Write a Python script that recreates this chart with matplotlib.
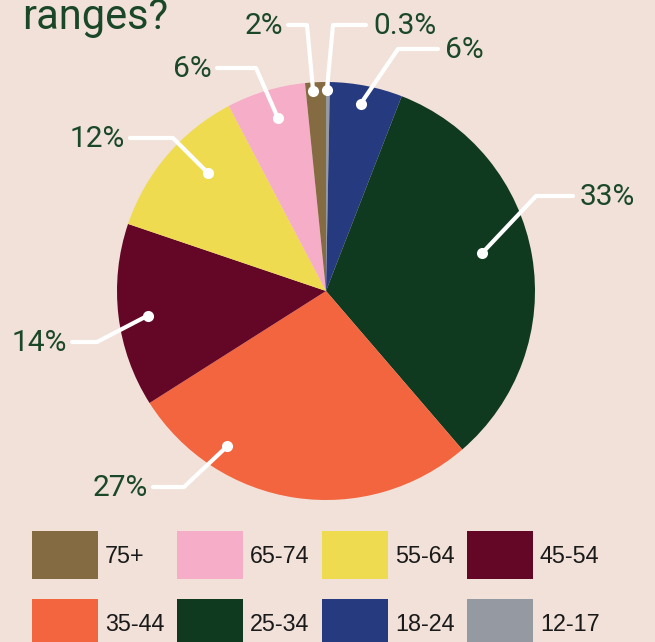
import matplotlib.pyplot as plt
from matplotlib.patches import Rectangle
import numpy as np

# pie data, clockwise from 12 o'clock
ages = ['12-17', '18-24', '25-34', '35-44', '45-54', '55-64', '65-74', '75+']
shares = [0.3, 5.6, 32.8, 27.3, 14.2, 12.1, 6.1, 1.6]
pct_labels = ['0.3%', '6%', '33%', '27%', '14%', '12%', '6%', '2%']
colors = ['#9599a1', '#263a80', '#103a20', '#f2653e', '#640727', '#efdb50', '#f6adc8', '#846b42']

# legend runs the other way round
legend_order = ['75+', '65-74', '55-64', '45-54', '35-44', '25-34', '18-24', '12-17']

W, H = 655, 642
bg = '#f1e1d8'
text_green = '#1b4829'


def up(y):
    # pixel rows measured from the top -> data y
    return H - y


fig = plt.figure(figsize=(6.55, 6.42), dpi=100)
fig.patch.set_facecolor(bg)
ax = fig.add_axes([0, 0, 1, 1])
ax.set_facecolor(bg)

cx, cy, rad = 326, up(291), 209
wedges, _ = ax.pie(shares, colors=colors, startangle=90, counterclock=False,
                   center=(cx, cy), radius=rad, wedgeprops=dict(linewidth=0))

ax.set_xlim(0, W)
ax.set_ylim(0, H)
ax.set_aspect('equal')
ax.axis('off')

# callouts: dot (clockwise shift from wedge middle, radius fraction), elbow, line end
dot_shift = [-0.3, -0.7, -4, 24, -1, 4.5, 1.2, -0.8]
dot_frac = [0.96, 0.91, 0.77, 0.88, 0.86, 0.80, 0.86, 0.96]
elbows = [(333, 25), (398, 49), (536, 196), (184, 487), (97, 342), (173, 138), (256, 68), (307, 25)]
ends = [(366, 25), (438, 49), (573, 196), (153, 487), (72, 342), (130, 138), (217, 68), (288, 25)]

for w, lab, sh, fr, el, en in zip(wedges, pct_labels, dot_shift, dot_frac, elbows, ends):
    mid = np.deg2rad((w.theta1 + w.theta2) / 2 - sh)
    dx = cx + fr * rad * np.cos(mid)
    dy = cy + fr * rad * np.sin(mid)
    xs = [dx, el[0], en[0]]
    ys = [dy, up(el[1]), up(en[1])]
    ax.plot(xs, ys, color='white', lw=3, solid_capstyle='round', solid_joinstyle='round')
    ax.plot(dx, dy, 'o', color='white', ms=8, mec='none')
    if en[0] > el[0]:
        ax.text(en[0] + 7, up(en[1] + 9), lab, ha='left', va='baseline',
                fontsize=21.5, color=text_green, family='Roboto')
    else:
        ax.text(en[0] - 5, up(en[1] + 9), lab, ha='right', va='baseline',
                fontsize=21.5, color=text_green, family='Roboto')

# title (top line is cut off in the source)
ax.text(22, up(29), 'ranges?', ha='left', va='baseline', fontsize=30,
        color='#1a4727', family='Roboto')

# legend grid
col_of = dict(zip(ages, colors))
for i, name in enumerate(legend_order):
    row, col = divmod(i, 4)
    x0 = 32 + col * 145
    y0 = 531 + row * 68
    ax.add_patch(Rectangle((x0, up(y0 + 48)), 66, 48, color=col_of[name], lw=0))
    ax.text(x0 + 73, up(y0 + 32), name, ha='left', va='baseline', fontsize=16.8,
            color='#1a1a1a', family='Liberation Sans')

fig.savefig('out.png', dpi=100, facecolor=bg)
